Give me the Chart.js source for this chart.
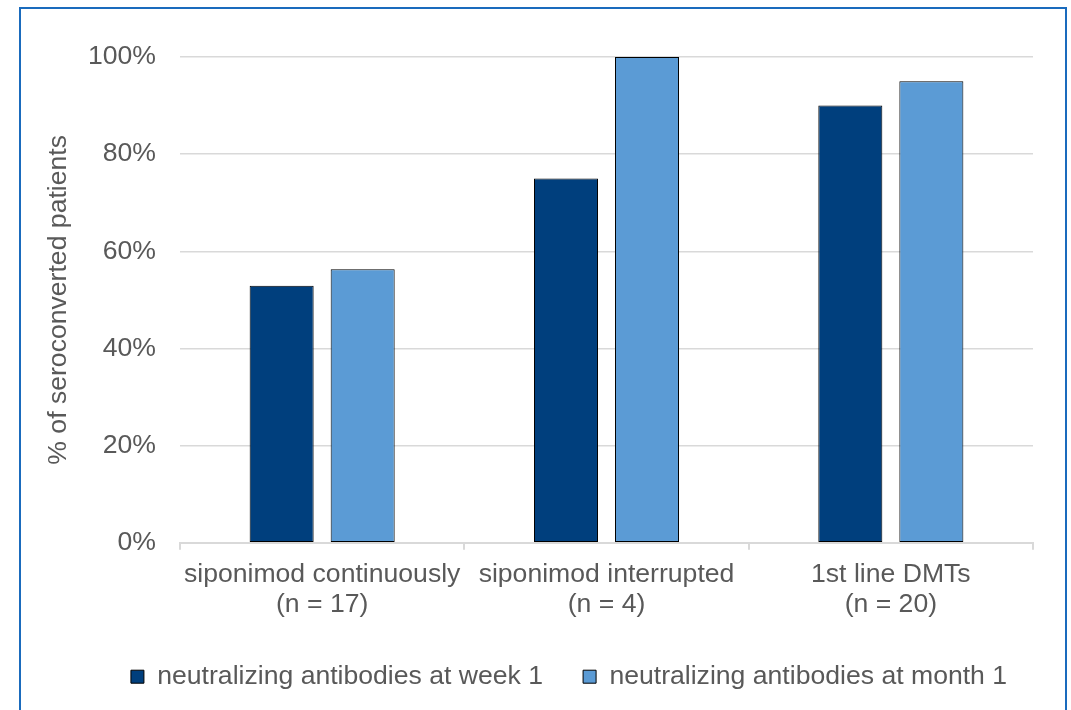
<!DOCTYPE html>
<html>
<head>
<meta charset="utf-8">
<script src="https://cdn.jsdelivr.net/npm/chart.js@4"></script>
<style>
  body { margin: 0; background: #fff; }
  #wrap { position: relative; width: 1071px; height: 710px; overflow: hidden; }
  #frame { position: absolute; left: 19px; top: 7px; width: 1044px; height: 720px;
           border: 2px solid #1a6bbd; pointer-events: none; }
</style>
</head>
<body>
<div id="wrap">
  <canvas id="chart" width="1071" height="710"></canvas>
  <div id="frame"></div>
</div>
<script>
// data
const categories = [
    ['siponimod continuously', '(n = 17)'],
    ['siponimod interrupted', '(n = 4)'],
    ['1st line DMTs', '(n = 20)']
];
const seriesNames = ['neutralizing antibodies at week 1', 'neutralizing antibodies at month 1'];
const week1 = [52.9, 75, 90];
const month1 = [56.3, 100, 95];
const yTicks = [0, 20, 40, 60, 80, 100];

const textColor = '#595959';
const gridColor = '#d9d9d9';
const font = { family: 'Liberation Sans, Arial, sans-serif', size: 26.6 };

// legend sits a little right of the canvas centre in the original
const legendShift = {
    id: 'legendShift',
    afterLayout(chart) {
        if (!chart.legend) return;
        chart.legend.left += 31;
        chart.legend.right += 31;
    }
};

const ctx = document.getElementById('chart');
const chart = new Chart(ctx, {
    type: 'bar',
    data: {
        labels: categories,
        datasets: [
            {
                label: seriesNames[0],
                data: week1,
                backgroundColor: '#003f7d',
                borderColor: '#000000',
                borderWidth: 1,
                borderSkipped: false
            },
            {
                label: seriesNames[1],
                data: month1,
                backgroundColor: '#5b9bd5',
                borderColor: '#000000',
                borderWidth: 1,
                borderSkipped: false
            }
        ]
    },
    options: {
        responsive: false,
        animation: false,
        categoryPercentage: 0.57,
        barPercentage: 0.79,
        layout: {
            padding: { left: 43, right: 38, top: 57, bottom: 10 }
        },
        plugins: {
            tooltip: { enabled: false },
            legend: {
                position: 'bottom',
                labels: {
                    color: textColor,
                    font: font,
                    boxWidth: 13,
                    boxHeight: 13,
                    padding: 40
                }
            }
        },
        scales: {
            x: {
                // fixed height so the plot bottom lands where the reference has it
                afterFit: function(scale) { scale.height = 80.7; },
                grid: {
                    display: true,
                    drawOnChartArea: false,
                    offset: true,
                    color: gridColor,
                    lineWidth: 2,
                    tickLength: 7
                },
                border: { display: true, color: gridColor, width: 2 },
                ticks: {
                    color: textColor,
                    font: { family: font.family, size: 26.6, lineHeight: 1.13 },
                    padding: 10,
                    maxRotation: 0
                }
            },
            y: {
                min: 0,
                max: 100,
                afterFit: function(scale) { scale.width = 137; },
                afterBuildTicks: function(scale) {
                    scale.ticks = yTicks.map(v => ({ value: v }));
                },
                grid: {
                    color: gridColor,
                    lineWidth: 1.5,
                    drawTicks: false
                },
                border: { display: false },
                ticks: {
                    color: textColor,
                    font: font,
                    padding: 24,
                    callback: v => v + '%'
                },
                title: {
                    display: true,
                    text: '% of seroconverted patients',
                    color: textColor,
                    font: font,
                    padding: 0
                }
            }
        }
    },
    plugins: [legendShift]
});
</script>
</body>
</html>
